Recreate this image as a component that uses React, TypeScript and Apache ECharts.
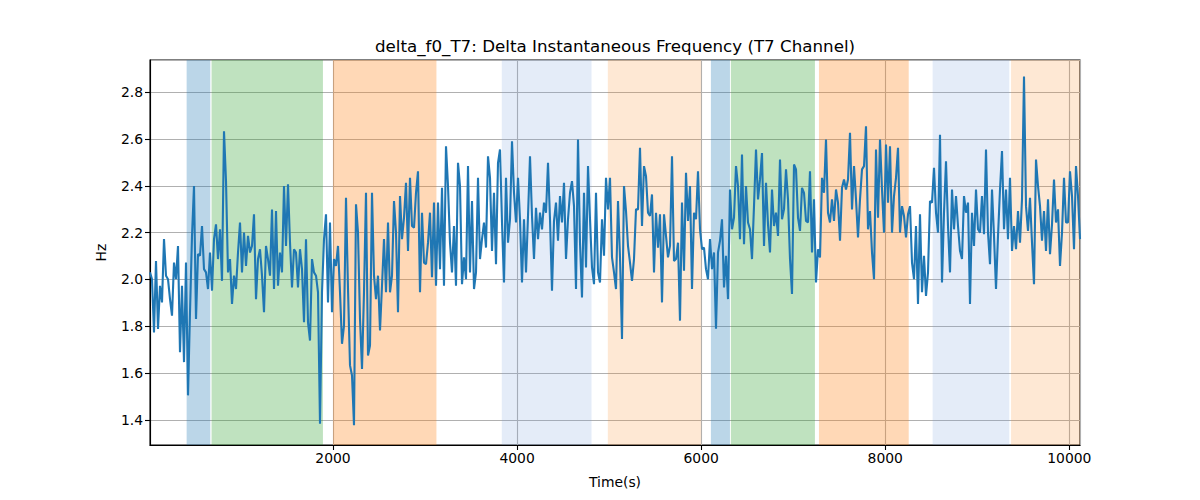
import React, { useEffect, useRef } from 'react';
import * as echarts from 'echarts';

// regular sampling grid of the T7 channel
const T_START = 12;
const T_END = 10116;

const seg1 = [
  2.030, 2.001, 1.774, 2.079, 1.789, 1.973, 1.902, 2.172, 2.016, 2.001,
  1.916, 1.845, 2.072, 2.001, 2.143, 1.689, 1.973, 1.647, 2.072, 1.505,
  1.860, 2.186, 2.399, 1.831, 2.108, 2.101, 2.228, 2.044, 2.030, 1.959,
  2.115, 1.952, 2.172, 2.235, 2.087, 2.214, 1.994, 2.633, 2.420, 2.030,
  2.087, 1.895, 2.016, 1.959, 2.115, 2.243, 2.030, 2.200, 2.058, 2.186,
  2.115, 2.143, 2.278, 1.916, 2.087, 2.129, 2.016, 1.860, 2.143, 2.087,
  2.016, 2.299, 1.959, 2.292, 1.973, 2.115, 2.030, 2.399, 2.143, 2.406,
  2.157, 1.966, 2.129, 2.115, 1.966, 2.129, 2.044, 1.817,
];
const seg2 = [
  2.172, 1.817, 1.739, 2.087, 2.030, 2.016, 1.945, 1.384, 1.945, 2.172,
  2.278, 1.902, 2.243, 1.860, 2.087, 2.058, 2.143, 1.945, 1.725, 1.803,
  2.349, 1.959, 1.633, 1.590, 1.377, 2.321, 2.200, 1.831, 1.618, 1.945,
  2.370, 1.675, 1.718, 2.370, 2.016, 1.916, 2.016, 1.782, 1.973, 2.172,
  1.945, 2.243, 1.945, 2.016, 2.335, 2.200, 1.860, 2.356, 2.172, 2.264,
  2.413, 2.122, 2.434, 2.228, 2.221, 2.370, 2.462, 1.945, 2.285, 2.072,
  2.065, 2.157, 2.285, 2.009, 2.328, 1.973, 2.328, 2.044, 2.391, 1.973,
  2.569, 2.399, 2.157, 2.030, 2.228, 1.973, 2.498,
];
const seg3 = [
  2.399, 1.980, 2.094, 2.001, 2.484, 2.030, 2.335, 1.959, 2.030, 2.434,
  2.087, 2.172, 2.243, 2.136, 2.526, 2.434, 2.122, 2.370, 2.065, 2.498,
  2.555, 2.243, 1.987, 2.434, 2.157, 2.257, 2.590, 2.370, 2.243, 2.434,
  2.257, 1.987, 2.257, 2.030, 2.271, 2.526, 2.271, 2.087, 2.306, 2.172,
  2.285, 2.214, 2.328, 2.285, 2.498, 2.257, 1.952, 2.250, 2.328, 2.165,
  2.356, 2.243, 2.413, 2.087, 2.257, 2.370, 2.420, 2.313, 1.959, 2.597,
  2.157, 1.923, 2.370, 2.051, 2.484, 2.257, 2.051, 1.980, 2.370, 2.030,
  1.987, 2.257, 2.101, 2.434, 2.299, 2.434, 2.094, 2.030,
];
const seg4 = [
  1.959, 2.335, 2.094, 1.746, 2.399, 2.292, 2.143, 2.072, 1.994, 2.087,
  2.299, 2.299, 2.562, 2.228, 2.484, 2.441, 2.285, 2.271, 2.363, 2.030,
  2.285, 2.136, 2.278, 1.902, 2.278, 2.186, 2.094, 2.143, 2.526, 2.079,
  2.087, 2.157, 1.824, 2.328, 2.037, 2.455, 2.250, 2.399, 1.959, 2.285,
  2.257, 2.462, 2.214, 2.129, 2.136, 2.044, 2.001, 2.172, 2.044, 2.115,
  1.789, 2.115, 2.165, 2.257, 1.966, 2.101, 1.916, 2.384, 2.214, 2.264,
  2.484, 2.399, 2.172, 2.533, 2.150, 2.399, 2.243, 2.214, 2.087, 2.313,
  2.555, 2.342, 2.427, 2.540, 2.143, 2.413, 2.235,
];
const seg5 = [
  2.115, 2.384, 2.228, 2.285, 2.186, 2.512, 2.257, 2.299, 2.470, 2.342,
  2.087, 1.938, 2.491, 2.470, 2.264, 2.207, 2.391, 2.370, 2.250, 2.243,
  2.462, 2.115, 2.342, 1.987, 2.129, 2.094, 2.434, 2.370, 2.597, 2.285,
  2.243, 2.342, 2.250, 2.384, 2.328, 2.165, 2.391, 2.427, 2.384, 2.427,
  2.626, 2.299, 2.484, 2.342, 2.179, 2.342, 2.470, 2.484, 2.654, 2.214,
  2.292, 2.115, 2.001, 2.555, 2.264, 2.597, 2.384, 2.200, 2.576, 2.328,
  2.569, 2.200, 2.356, 2.434, 2.562, 2.200, 2.313, 2.271, 2.179, 2.278,
  2.313, 2.072, 2.001, 2.228, 1.895, 2.278, 1.945,
];
const seg6 = [
  2.101, 1.930, 2.030, 2.335, 2.328, 2.477, 2.285, 2.200, 2.618, 1.987,
  2.285, 2.505, 2.228, 2.030, 2.384, 2.214, 2.356, 2.228, 2.122, 2.087,
  2.356, 2.285, 2.328, 1.895, 2.285, 2.143, 2.384, 2.214, 2.200, 2.356,
  2.193, 2.555, 2.200, 2.065, 2.384, 2.186, 1.959, 2.186, 2.384, 2.548,
  2.214, 2.384, 2.172, 2.434, 2.122, 2.228, 2.129, 2.292, 2.157, 2.342,
  2.867, 2.313, 2.207, 2.349, 2.157, 1.980, 2.512, 2.399, 2.313, 2.165,
  2.292, 2.122, 2.342, 2.108, 2.235, 2.427, 2.243, 2.299, 2.058, 2.200,
  2.434, 2.243, 2.243, 2.462, 2.356, 2.129, 2.484, 2.356, 2.172,
];
const freqValues = [...seg1, ...seg2, ...seg3, ...seg4, ...seg5, ...seg6];

// shaded epochs [start, end, colour]
const spanStarts = [410, 681, 2000, 3834, 4986, 6106, 6323, 7280, 8515, 9367];
const spanEnds = [667, 1891, 3124, 4809, 6000, 6313, 7236, 8255, 9348, 10116];
const spanColors = [
  'rgba(31,119,180,0.3)',
  'rgba(44,160,44,0.3)',
  'rgba(255,127,14,0.3)',
  'rgba(120,160,220,0.2)',
  'rgba(250,140,40,0.2)',
  'rgba(31,119,180,0.3)',
  'rgba(44,160,44,0.3)',
  'rgba(255,127,14,0.3)',
  'rgba(120,160,220,0.2)',
  'rgba(250,140,40,0.2)',
];

const Y_MIN = 1.293;
const Y_MAX = 2.937;

const FONT = 'DejaVu Sans';

const App: React.FC = () => {
  const chartRef = useRef<HTMLDivElement>(null);

  useEffect(() => {
    if (!chartRef.current) return;
    const chart = echarts.init(chartRef.current, undefined, { renderer: 'svg' });

    const step = (T_END - T_START) / (freqValues.length - 1);
    const lineData = freqValues.map((v, i) => [T_START + i * step, v]);

    const areas = spanStarts.map((s, i) => [
      { xAxis: s, itemStyle: { color: spanColors[i] } },
      { xAxis: spanEnds[i] },
    ]);

    const option = {
      animation: false,
      textStyle: { fontFamily: FONT },
      graphic: [
        {
          type: 'text',
          x: 615,
          y: 46,
          style: {
            text: 'delta_f0_T7: Delta Instantaneous Frequency (T7 Channel)',
            fontFamily: FONT,
            fontSize: 16.7,
            fill: '#000',
            align: 'center',
            verticalAlign: 'middle',
          },
        },
      ],
      grid: {
        left: 150,
        right: 120,
        top: 60,
        bottom: 55,
        show: true,
        borderColor: '#000',
        borderWidth: 1.1,
        backgroundColor: 'transparent',
      },
      xAxis: {
        type: 'value',
        min: T_START,
        max: T_END,
        name: 'Time(s)',
        nameLocation: 'middle',
        nameGap: 30,
        nameTextStyle: { fontFamily: FONT, fontSize: 13.9, color: '#000' },
        axisLine: { show: true, lineStyle: { color: '#000', width: 1.1 } },
        axisTick: { show: true, length: 5, lineStyle: { color: '#000', width: 1.1 } },
        axisLabel: {
          showMinLabel: false,
          showMaxLabel: false,
          fontFamily: FONT,
          fontSize: 13.9,
          color: '#000',
          margin: 6,
          formatter: (v: number) => String(Math.round(v)),
        },
        splitLine: { show: true, lineStyle: { color: '#b0b0b0', width: 1.1 } },
      },
      yAxis: {
        type: 'value',
        min: Y_MIN,
        max: Y_MAX,
        splitNumber: 8,
        name: 'Hz',
        nameLocation: 'middle',
        nameGap: 42,
        nameTextStyle: { fontFamily: FONT, fontSize: 13.9, color: '#000' },
        axisLine: { show: true, lineStyle: { color: '#000', width: 1.1 } },
        axisTick: { show: true, length: 5, lineStyle: { color: '#000', width: 1.1 } },
        axisLabel: {
          showMinLabel: false,
          showMaxLabel: false,
          fontFamily: FONT,
          fontSize: 13.9,
          color: '#000',
          margin: 7,
          formatter: (v: number) => v.toFixed(1),
        },
        splitLine: { show: true, lineStyle: { color: '#b0b0b0', width: 1.1 } },
      },
      series: [
        {
          type: 'line',
          data: [],
          z: 1,
          markArea: {
            silent: true,
            data: areas,
          },
        },
        {
          type: 'line',
          data: lineData,
          z: 3,
          symbol: 'none',
          lineStyle: { color: '#1f77b4', width: 2.1 },
        },
      ],
    };

    chart.setOption(option);
    return () => {
      chart.dispose();
    };
  }, []);

  return (
    <div
      ref={chartRef}
      style={{ position: 'fixed', left: 0, top: 0, width: 1200, height: 500, background: '#fff' }}
    />
  );
};

export default App;
